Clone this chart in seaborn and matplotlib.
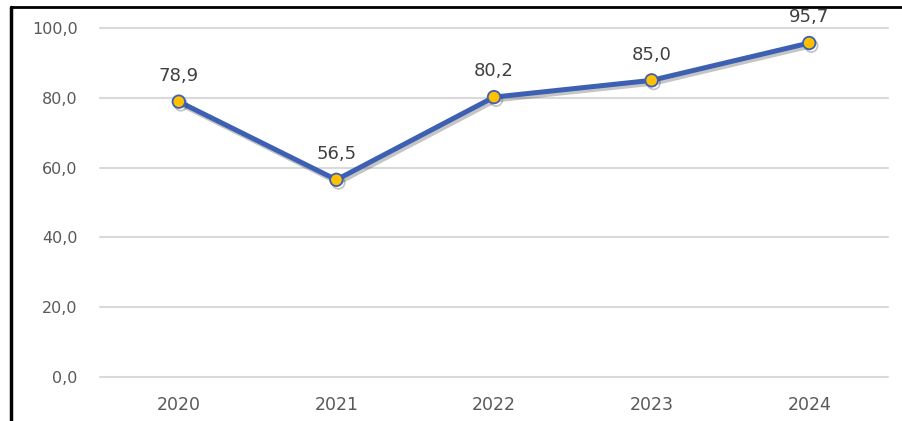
import matplotlib
matplotlib.use("Agg")
import matplotlib.pyplot as plt
import matplotlib.patheffects as pe
from matplotlib.lines import Line2D
import seaborn as sns
import pandas as pd

years = ["2020", "2021", "2022", "2023", "2024"]
values = [78.9, 56.5, 80.2, 85.0, 95.7]
yticks = [0, 20, 40, 60, 80, 100]

sns.set_theme(style="white")
plt.rcParams['font.family'] = ['DejaVu Sans']

df = pd.DataFrame({"year": years, "value": values})

fig = plt.figure(figsize=(9.02, 4.21), dpi=100)
ax = fig.add_axes([100/902, 1-377/421, 788/902, 349/421])

sns.lineplot(data=df, x="year", y="value", ax=ax, color="#3D60B2", lw=3.6,
             marker="o", markersize=9, markerfacecolor="#FFC000",
             markeredgecolor="#3D60B2", markeredgewidth=1.3, sort=False,
             path_effects=[pe.SimpleLineShadow(offset=(1.5, -2), alpha=0.3, shadow_color="#404040"), pe.Normal()])

ax.set_xlim(-0.5, 4.5)
ax.set_ylim(0, 100)
ax.set_yticks(yticks)
ax.set_yticklabels([f"{v:.1f}".replace(".", ",") for v in yticks])
ax.yaxis.grid(True, color="#D9D9D9", lw=1.5)
ax.xaxis.grid(False)
for gl in ax.get_ygridlines():
    gl.set_clip_on(False)
for s in ax.spines.values():
    s.set_visible(False)
ax.tick_params(axis="y", length=0, pad=16, labelsize=11.5, labelcolor="#595959")
ax.tick_params(axis="x", length=0, pad=14, labelsize=12.5, labelcolor="#595959")
ax.set_xlabel("")
ax.set_ylabel("")

for i, v in enumerate(values):
    ax.annotate(f"{v:.1f}".replace(".", ","), (i, v), xytext=(0, 15),
                textcoords="offset points", ha="center", va="baseline",
                fontsize=13, color="#404040")

fig.add_artist(Line2D([11/902, 11/902], [0, 1-7/421], color="black", lw=2.5, transform=fig.transFigure))
fig.add_artist(Line2D([11/902, 1], [1-7/421, 1-7/421], color="black", lw=2, transform=fig.transFigure))

fig.savefig("out.png", dpi=100)
